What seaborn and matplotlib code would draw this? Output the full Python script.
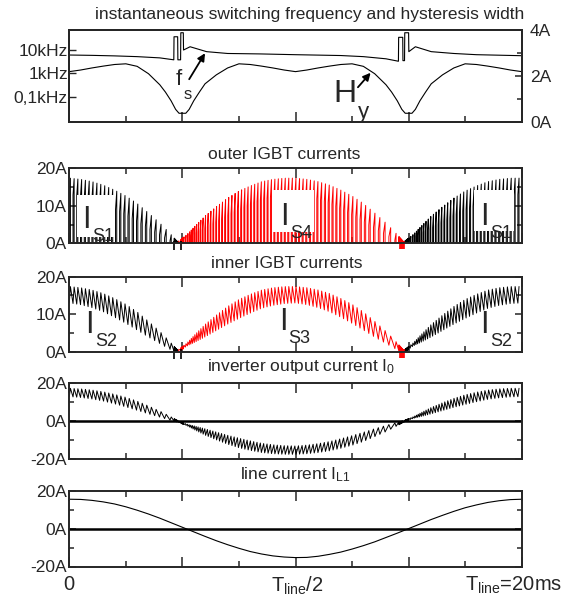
import numpy as np
import seaborn as sns
import matplotlib
matplotlib.use("Agg")
from matplotlib import pyplot as plt
from matplotlib.patches import Rectangle
from matplotlib.ticker import LogLocator, NullFormatter, FixedLocator

# ---- values (time in ms, 0 .. T_line = 20 ms) ----
t_tab = [0.0, 0.5, 1.0, 1.5, 2.0, 2.5, 3.0, 3.5, 4.0, 4.5, 5.0, 5.5, 6.0, 6.5,
         7.0, 7.5, 8.0, 8.5, 9.0, 9.5, 10.0, 10.5, 11.0, 11.5, 12.0, 12.5,
         13.0, 13.5, 14.0, 14.5, 15.0, 15.5, 16.0, 16.5, 17.0, 17.5, 18.0,
         18.5, 19.0, 19.5, 20.0]

# line current I_L1 (A)
line_current = [15.5, 15.4, 14.9, 14.1, 13.0, 11.5, 9.7, 7.7, 5.5, 3.1, 0.7,
                -1.7, -4.1, -6.4, -8.5, -10.4, -12.1, -13.4, -14.4, -15.0,
                -15.3, -15.2, -14.6, -13.6, -12.4, -10.8, -9.0, -7.0, -4.7,
                -2.4, 0.0, 2.4, 4.8, 7.0, 9.1, 11.0, 12.5, 13.8, 14.7, 15.3,
                15.5]

# centre of the inverter output current ripple band I_0 (A)
i0_mid = [15.2, 14.8, 14.1, 13.1, 11.7, 10.1, 8.2, 6.0, 3.8, 1.4, -1.0, -3.3,
          -5.6, -7.7, -9.7, -11.4, -12.8, -14.0, -14.7, -15.1, -15.2, -14.8,
          -14.1, -13.1, -11.7, -10.1, -8.2, -6.0, -3.8, -1.4, 1.0, 3.3, 5.6,
          7.7, 9.7, 11.4, 12.8, 14.0, 14.7, 15.1, 15.2]

# hysteresis width H_y (A)
hy_t = [0.0, 0.5, 1.0, 1.5, 2.0, 2.5, 3.0, 3.5, 4.0, 4.25, 4.5, 4.7, 4.85,
        5.15, 5.3, 5.5, 5.75, 6.0, 6.5, 7.0, 7.5, 8.0, 8.5, 9.0, 9.5, 10.0,
        10.5, 11.0, 11.5, 12.0, 12.5, 13.0, 13.5, 14.0, 14.25, 14.5, 14.7,
        14.85, 15.15, 15.3, 15.5, 15.75, 16.0, 16.5, 17.0, 17.5, 18.0, 18.5,
        19.0, 19.5, 20.0]
hy_val = [2.19, 2.26, 2.35, 2.43, 2.50, 2.53, 2.42, 2.10, 1.62, 1.30, 0.92,
          0.55, 0.38, 0.38, 0.55, 0.92, 1.30, 1.66, 2.05, 2.35, 2.53, 2.50,
          2.43, 2.35, 2.26, 2.19, 2.26, 2.35, 2.43, 2.50, 2.53, 2.42, 2.10,
          1.62, 1.30, 0.92, 0.55, 0.38, 0.38, 0.55, 0.92, 1.30, 1.66, 2.05,
          2.35, 2.53, 2.50, 2.43, 2.35, 2.26, 2.19]

# instantaneous switching frequency f_s (kHz)
fs_t = [0.0, 1.0, 2.0, 3.0, 4.0, 4.62, 4.63, 4.79, 4.80, 4.92, 4.93, 5.04,
        5.05, 5.34, 6.07, 7.0, 8.43, 10.0, 12.0, 13.0, 14.0, 14.55, 14.56,
        14.74, 14.75, 14.82, 14.83, 15.0, 15.01, 15.3, 16.0, 17.0, 18.0, 20.0]
fs_khz = [6.1, 5.9, 5.6, 5.2, 4.6, 3.8, 37.0, 37.0, 3.8, 3.8, 55.0, 55.0,
          10.0, 13.8, 8.5, 7.1, 6.8, 6.3, 5.8, 5.2, 4.2, 3.3, 35.0, 35.0,
          3.5, 3.5, 55.0, 55.0, 8.5, 13.8, 8.5, 7.1, 6.3, 5.7]

# small overshoots below 0 A at the zero crossings
marks_black = [4.64, 4.92]
marks_red = [14.62, 14.66, 14.70, 14.74, 14.78]
rise_share = 0.3      # part of each switching period in which |I_0| rises

# ---- style ----
sns.set_style("ticks")
plt.rcParams['font.family'] = ['Liberation Sans', 'DejaVu Sans']
plt.rcParams['mathtext.fontset'] = 'custom'
plt.rcParams['mathtext.rm'] = 'Liberation Sans'
plt.rcParams['mathtext.it'] = 'Liberation Sans:italic'
plt.rcParams['axes.linewidth'] = 1.4
RED = '#ff0000'
TICK_FS = 12.5

# ---- switching instants from f_s ----
t_fine = np.linspace(0, 20, 20001)
fs_fine = np.interp(t_fine, fs_t, fs_khz)
phase = np.cumsum(fs_fine) * (t_fine[1] - t_fine[0])
idx = np.searchsorted(phase, np.arange(0, int(phase[-1]) + 1))
t_sw = t_fine[np.clip(idx, 0, len(t_fine) - 1)]
t_sw = np.append(t_sw, 20.0)


def mid(t):
    return np.interp(t, t_tab, i0_mid)


def hy(t):
    return np.interp(t, hy_t, hy_val)


periods = []
for k in range(len(t_sw) - 1):
    ta = t_sw[k]
    tb = ta + rise_share * (t_sw[k + 1] - ta)
    s = 1.0 if mid(0.5 * (ta + t_sw[k + 1])) >= 0 else -1.0
    ia = mid(ta) - s * hy(ta)
    ib = mid(tb) + s * hy(tb)
    periods.append((ta, tb, s, ia, ib))

# group the periods by sign (black: S1/S2, red: S4/S3)
runs = []
for p in periods:
    if runs and runs[-1][0] == p[2]:
        runs[-1][1].append(p)
    else:
        runs.append((p[2], [p]))

fig = plt.figure(figsize=(5.64, 5.96), dpi=100)
L, W = 69.3 / 564, 452.4 / 564


def add_axes(top, bot):
    return fig.add_axes([L, 1 - bot / 596, W, (bot - top) / 596])


ax1 = add_axes(30, 122)
ax2 = add_axes(168.3, 243.3)
ax3 = add_axes(276.7, 351.7)
ax4 = add_axes(383.3, 459.3)
ax5 = add_axes(490.7, 566.5)


def style_x(ax, top=True):
    ax.set_xlim(0, 20)
    ax.xaxis.set_major_locator(FixedLocator([0, 5, 10, 15, 20]))
    ax.xaxis.set_minor_locator(FixedLocator([2.5, 7.5, 12.5, 17.5]))
    ax.tick_params(axis='x', which='both', direction='in', top=top,
                   bottom=True, labelbottom=False, width=1.1)
    ax.tick_params(axis='x', which='major', length=7)
    ax.tick_params(axis='x', which='minor', length=4.5)
    ax.set_xlabel('')


def style_y(ax, major, labels, minor):
    ax.set_yticks(major, labels)
    ax.yaxis.set_minor_locator(FixedLocator(minor))
    ax.tick_params(axis='y', which='both', direction='in', left=True,
                   right=True, width=1.1, labelsize=TICK_FS, pad=2)
    ax.tick_params(axis='y', which='major', length=5)
    ax.tick_params(axis='y', which='minor', length=3.5)
    ax.set_ylabel('')


def big_label(ax, x, y, main, sub, size=22, subsize=13, dy=-7):
    txt = ax.text(x, y, main, fontsize=size, ha='left', va='baseline', zorder=6)
    ax.annotate(sub, xy=(1, 0), xycoords=txt, xytext=(1, dy),
                textcoords='offset points', fontsize=subsize, ha='left',
                va='bottom', zorder=6)


# ---- panel 1: f_s (log, left) and H_y (right) ----
sns.lineplot(x=fs_t, y=np.array(fs_khz) * 1000, ax=ax1, color='k', lw=0.8,
             sort=False, estimator=None)
ax1.set_yscale('log')
ax1.set_ylim(8.2, 72100)
ax1.set_yticks([100, 1000, 10000], ['0,1kHz', '1kHz', '10kHz'])
ax1.yaxis.set_minor_locator(LogLocator(base=10, subs=np.arange(2, 10)))
ax1.yaxis.set_minor_formatter(NullFormatter())
ax1.tick_params(axis='y', which='both', direction='in', left=True,
                right=False, width=1.0, labelsize=TICK_FS, pad=1)
ax1.tick_params(axis='y', which='major', length=5)
ax1.tick_params(axis='y', which='minor', length=3)
ax1.set_ylabel('')
style_x(ax1, top=False)

ax1r = ax1.twinx()
sns.lineplot(x=hy_t, y=hy_val, ax=ax1r, color='k', lw=0.8, sort=False,
             estimator=None)
ax1r.set_ylim(0, 4)
ax1r.set_yticks([0, 2, 4], ['0A', '2A', '4A'])
ax1r.yaxis.set_minor_locator(FixedLocator([1, 3]))
ax1r.tick_params(axis='y', which='both', direction='in', right=True,
                 left=False, width=1.1, labelsize=TICK_FS, pad=6)
ax1r.tick_params(axis='y', which='major', length=5)
ax1r.tick_params(axis='y', which='minor', length=3.5)
ax1r.tick_params(axis='x', which='both', bottom=False, top=False,
                 labelbottom=False)
ax1r.set_ylabel('')

big_label(ax1r, 4.72, 1.61, 'f', 's', size=16, subsize=12, dy=-9)
big_label(ax1r, 11.66, 0.87, 'H', 'y', size=23, subsize=16, dy=-10)
ax1r.annotate('', xy=(6.0, 2.99), xytext=(5.3, 1.86),
              arrowprops=dict(arrowstyle='-|>', color='k', lw=1.3,
                              mutation_scale=11, shrinkA=0, shrinkB=0))
ax1r.annotate('', xy=(13.32, 2.14), xytext=(12.76, 1.51),
              arrowprops=dict(arrowstyle='-|>', color='k', lw=1.3,
                              mutation_scale=11, shrinkA=0, shrinkB=0))

# ---- panel 2: outer IGBT currents (pulses) ----
for s, run in runs:
    xs, ys = [], []
    for ta, tb, _, ia, ib in run:
        xs += [ta, ta, tb, tb]
        ys += [0, s * ia, s * ib, 0]
    sns.lineplot(x=xs, y=ys, ax=ax2, color='k' if s > 0 else RED, lw=0.7,
                 sort=False, estimator=None)
ax2.set_ylim(0, 20)
style_y(ax2, [0, 10, 20], ['0A', '10A', '20A'], [5, 15])
style_x(ax2)

for (x0, x1, y0, y1) in [(0.36, 2.02, 1.76, 12.9), (9.02, 10.83, 3.1, 14.2),
                         (17.9, 19.65, 3.3, 14.2)]:
    ax2.add_patch(Rectangle((x0, y0), x1 - x0, y1 - y0, facecolor='white',
                            edgecolor='none', zorder=5))
big_label(ax2, 0.57, 4.0, 'I', 'S1')
big_label(ax2, 9.34, 4.9, 'I', 'S4')
big_label(ax2, 18.16, 4.9, 'I', 'S1')

# ---- panel 3: inner IGBT currents (|I_0| zigzag) ----
for r, (s, run) in enumerate(runs):
    xs, ys = [], []
    for ta, tb, _, ia, ib in run:
        xs += [ta, tb]
        ys += [s * ia, s * ib]
    if r + 1 < len(runs):
        nxt = runs[r + 1][1][0]
        xs.append(nxt[0])
        ys.append(s * nxt[3])
    sns.lineplot(x=xs, y=ys, ax=ax3, color='k' if s > 0 else RED, lw=0.7,
                 sort=False, estimator=None)
ax3.set_ylim(0, 20)
style_y(ax3, [0, 10, 20], ['0A', '10A', '20A'], [5, 15])
style_x(ax3)
big_label(ax3, 0.7, 4.9, 'I', 'S2')
big_label(ax3, 9.26, 5.8, 'I', 'S3')
big_label(ax3, 18.16, 4.9, 'I', 'S2')

for ax in (ax2, ax3):
    ax.vlines(marks_black, -1.9, 0.6, color='k', lw=1.2, clip_on=False)
    ax.vlines(marks_red, -1.6, 0.6, color=RED, lw=1.2, clip_on=False)

# ---- panel 4: inverter output current I_0 ----
xs, ys = [], []
for ta, tb, _, ia, ib in periods:
    xs += [ta, tb]
    ys += [ia, ib]
sns.lineplot(x=xs, y=ys, ax=ax4, color='k', lw=0.7, sort=False,
             estimator=None)
ax4.axhline(0, color='k', lw=1.8)
ax4.set_ylim(-20, 20)
style_y(ax4, [-20, 0, 20], ['-20A', '0A', '20A'], [-10, 10])
style_x(ax4)

# ---- panel 5: line current I_L1 ----
sns.lineplot(x=t_tab, y=line_current, ax=ax5, color='k', lw=0.8, sort=False,
             estimator=None)
ax5.axhline(0, color='k', lw=1.8)
ax5.set_ylim(-20, 20)
style_y(ax5, [-20, 0, 20], ['-20A', '0A', '20A'], [-10, 10])
style_x(ax5)

XFS = 14.5
ax5.annotate('0', xy=(0, 0), xycoords='axes fraction', xytext=(0, -6),
             textcoords='offset points', ha='center', va='top', fontsize=XFS)
ax5.annotate(r'$\mathregular{T_{line}/2}$', xy=(0.5, 0),
             xycoords='axes fraction', xytext=(1, -6),
             textcoords='offset points', ha='center', va='top', fontsize=XFS)
ax5.annotate(r'$\mathregular{T_{line}}$=20ms', xy=(1, 0),
             xycoords='axes fraction', xytext=(29, -6),
             textcoords='offset points', ha='right', va='top', fontsize=XFS)

# ---- titles ----
TFS = 12.5
cx = L + W / 2
fig.text(cx + 0.025, 1 - 15 / 596, 'instantaneous switching frequency and hysteresis width',
         ha='center', va='center', fontsize=TFS)
fig.text(cx - 0.02, 1 - 155 / 596, 'outer IGBT currents', ha='center',
         va='center', fontsize=TFS)
fig.text(cx - 0.015, 1 - 263 / 596, 'inner IGBT currents', ha='center',
         va='center', fontsize=TFS)
fig.text(cx + 0.01, 1 - 367 / 596, r'inverter output current $\mathregular{I_0}$',
         ha='center', va='center', fontsize=TFS)
fig.text(cx, 1 - 475 / 596, r'line current $\mathregular{I_{L1}}$',
         ha='center', va='center', fontsize=TFS)

fig.savefig('out.png', dpi=100)
